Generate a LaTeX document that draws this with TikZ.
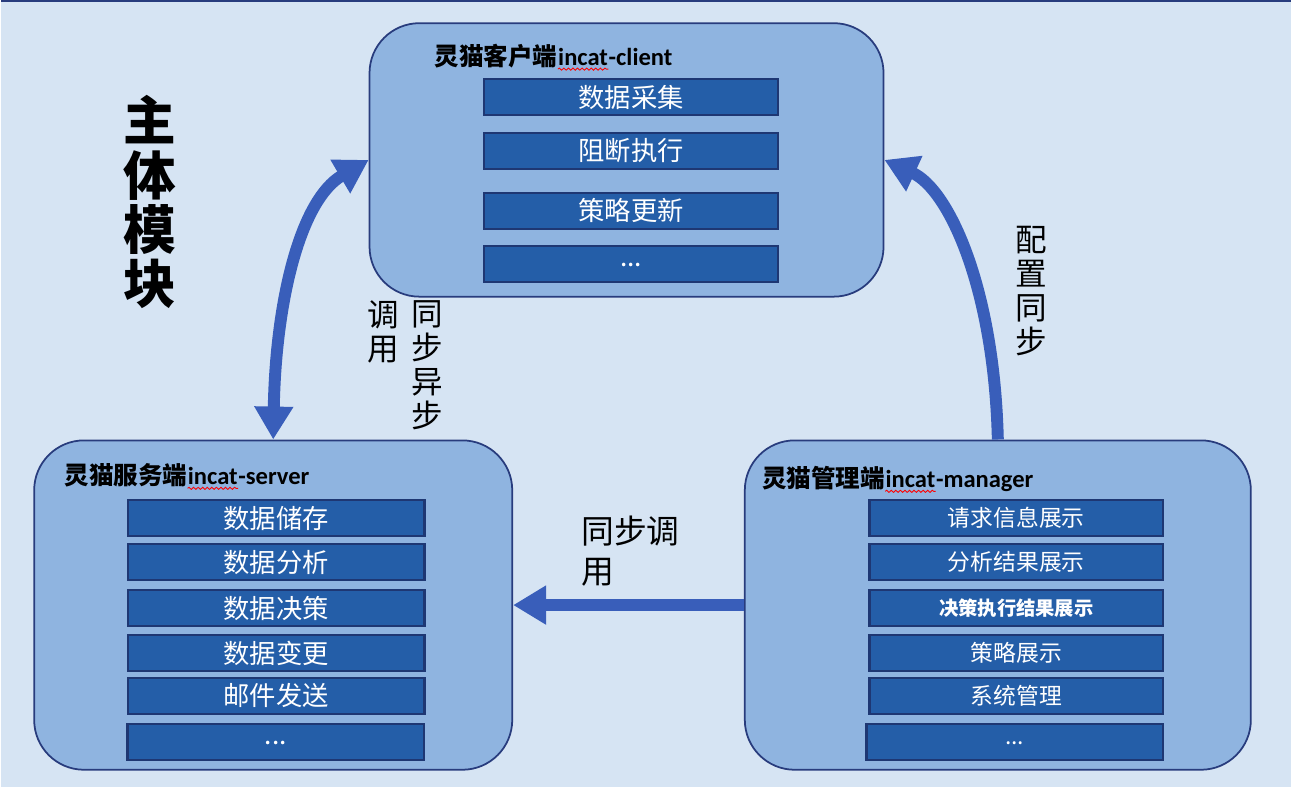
\documentclass[tikz,border=0pt]{standalone}
\usepackage{fontspec}
\setmainfont{Carlito}
\newfontfamily\cjk{Noto Sans CJK SC}
\usepackage{tikz}
\usetikzlibrary{arrows.meta,positioning,decorations.pathmorphing}
\usepackage{xcolor}
\definecolor{lmbg}{RGB}{214,228,243}
\definecolor{lmlight}{RGB}{143,180,224}
\definecolor{lmnavy}{RGB}{40,60,125}
\definecolor{lmdark}{RGB}{36,94,168}
\definecolor{lmedge}{RGB}{30,55,115}
\definecolor{lmarrow}{RGB}{57,94,186}
\tikzstyle{module} = [rectangle, rounded corners=1cm, draw=lmnavy, fill=lmlight, line width=1pt]
\tikzstyle{item} = [rectangle, minimum width=5.88cm, minimum height=0.72cm, inner sep=0pt, draw=lmedge, fill=lmdark, line width=1.3pt, text=white, font=\cjk\fontsize{15}{18}\selectfont]
\tikzstyle{title} = [inner sep=0pt, anchor=base west, font=\bfseries\fontsize{14}{17}\selectfont]
\tikzstyle{flow} = [line width=6.8pt, color=lmarrow]
\tikzstyle{squiggle} = [red, line width=0.5pt, decorate, decoration={snake, amplitude=0.6pt, segment length=2.6pt}]
\tikzstyle{note} = [align=center, font=\cjk\fontsize{18}{19.4}\selectfont]

\begin{document}
\begin{tikzpicture}
% Canvas
\fill[lmbg] (0,0) rectangle (25.84,15.76);
\draw[lmnavy, line width=1.4pt] (0,15.74) -- (25.84,15.74);

% Modules
\node (client) [module, minimum width=10.3cm, minimum height=5.48cm] at (12.53,12.56) {};
\node (server) [module, minimum width=9.58cm, minimum height=6.6cm] at (5.45,3.64) {};
\node (manager) [module, minimum width=10.14cm, minimum height=6.6cm] at (19.97,3.64) {};

% Titles
\node (ctitle) [title] at (8.68,14.46) {\cjk 灵猫客户端};
\node (cword) [title] at (ctitle.base east) {incat};
\node (crest) [title] at (cword.base east) {-client};
\draw[squiggle] ([yshift=-2pt]cword.south west) -- ([yshift=-2pt]cword.south east);

\node (stitle) [title] at (1.26,6.06) {\cjk 灵猫服务端};
\node (sword) [title] at (stitle.base east) {incat};
\node (srest) [title] at (sword.base east) {-server};
\draw[squiggle] ([yshift=-2pt]sword.south west) -- ([yshift=-2pt]sword.south east);

\node (mtitle) [title] at (15.24,6.0) {\cjk 灵猫管理端};
\node (mword) [title] at (mtitle.base east) {incat};
\node (mrest) [title] at (mword.base east) {-manager};
\draw[squiggle] ([yshift=-2pt]mword.south west) -- ([yshift=-2pt]mword.south east);

% Client items
\node (collect) [item] at (12.62,13.82) {数据采集};
\node (block) [item] at (12.62,12.74) {阻断执行};
\node (policy) [item] at (12.62,11.54) {策略更新};
\node (cmore) [item] at (12.62,10.48) {\raisebox{-3pt}{...}};

% Server items
\node (store) [item, minimum width=5.94cm] at (5.51,5.38) {数据储存};
\node (analyse) [item, minimum width=5.94cm] at (5.51,4.50) {数据分析};
\node (decide) [item, minimum width=5.94cm] at (5.51,3.58) {数据决策};
\node (change) [item, minimum width=5.94cm] at (5.51,2.68) {数据变更};
\node (mail) [item, minimum width=5.94cm] at (5.51,1.82) {邮件发送};
\node (smore) [item, minimum width=5.94cm] at (5.50,0.90) {\raisebox{-3pt}{...}};

% Manager items
\node (request) [item, font=\cjk\fontsize{13}{16}\selectfont] at (20.34,5.38) {请求信息展示};
\node (result) [item, font=\cjk\fontsize{13}{16}\selectfont] at (20.34,4.50) {分析结果展示};
\node (outcome) [item, font=\cjk\bfseries\fontsize{11}{14}\selectfont] at (20.34,3.58) {决策执行结果展示};
\node (rules) [item, font=\cjk\fontsize{13}{16}\selectfont] at (20.34,2.68) {策略展示};
\node (system) [item, font=\cjk\fontsize{13}{16}\selectfont] at (20.34,1.82) {系统管理};
\node (mmore) [item, minimum width=5.94cm, font=\cjk\fontsize{13}{16}\selectfont] at (20.31,0.90) {\raisebox{-3pt}{...}};

% Labels
\node (heading) [note, font=\cjk\bfseries\fontsize{30}{31}\selectfont] at (2.98,11.71) {主\\体\\模\\块};
\node (callA) [note] at (7.66,9.12) {调\\用};
\node (callB) [note] at (8.54,8.44) {同\\步\\异\\步};
\node (sync) [note] at (20.64,9.93) {配\\置\\同\\步};
\node (call) [note, align=left, anchor=west, font=\cjk\fontsize{18.7}{22.7}\selectfont] at (11.5,4.72) {同步调\\用};

% Connections
\draw[flow, {Triangle[length=0.66cm,width=0.74cm]}-{Triangle[length=0.66cm,width=0.74cm]}] (server.north) .. controls (5.5,9.76) and (6.0,11.76) .. (client.west);
\draw[flow, -{Triangle[length=0.66cm,width=0.74cm]}] (manager.north) .. controls (19.9,9.96) and (19.0,11.96) .. (client.east);
\draw[flow, -{Triangle[length=0.66cm,width=0.74cm]}] (manager.west) -- (server.east);
\end{tikzpicture}
\end{document}
